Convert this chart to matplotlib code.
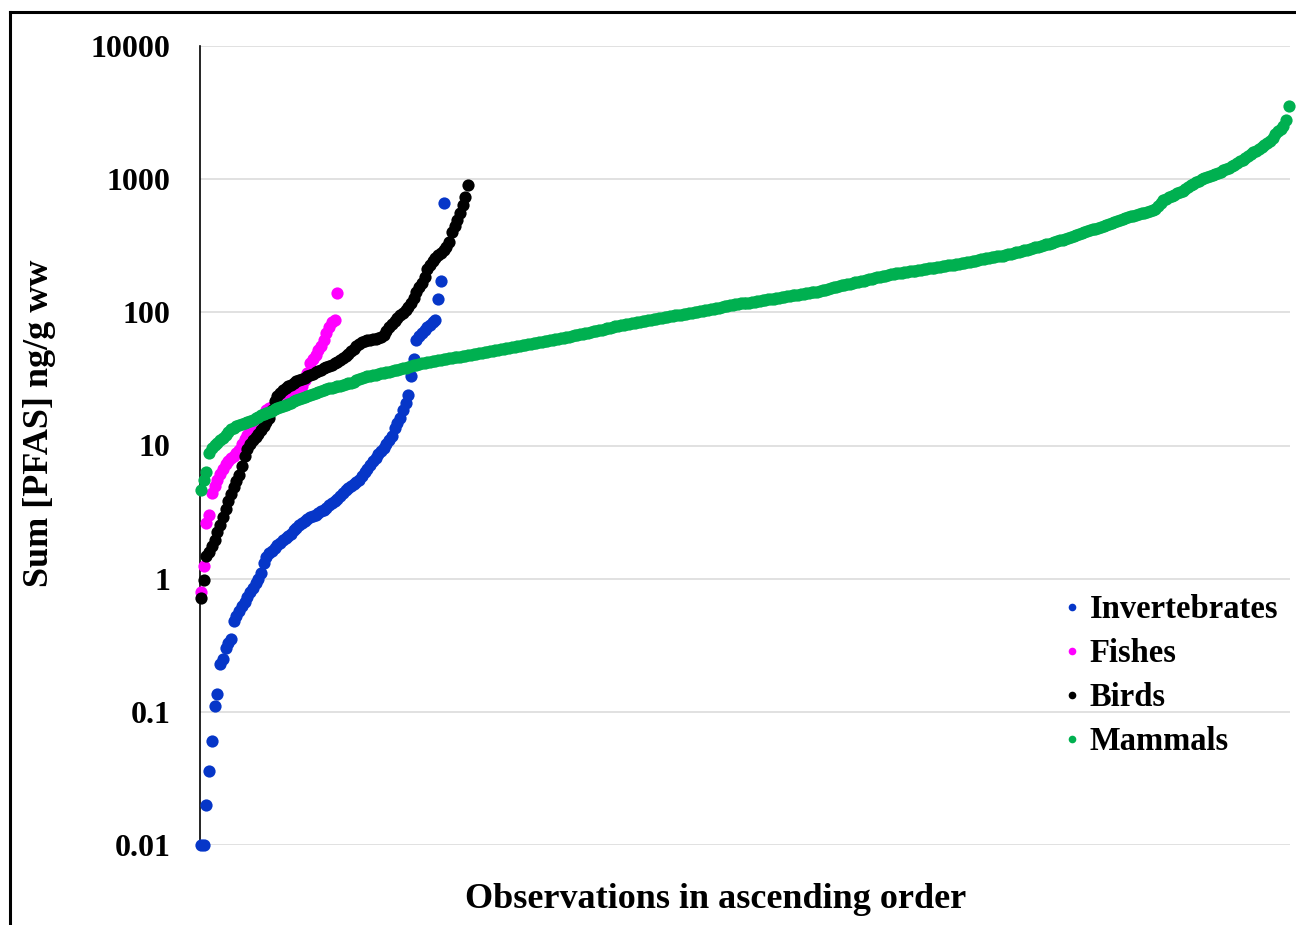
import matplotlib
matplotlib.use("Agg")
import matplotlib.pyplot as plt
from matplotlib.lines import Line2D
from matplotlib.ticker import FixedLocator, FixedFormatter, NullLocator

plt.rcParams['font.family'] = ['Liberation Serif', 'DejaVu Serif']
plt.rcParams['font.weight'] = 'bold'

series_names = ["Invertebrates", "Fishes", "Birds", "Mammals"]
series_colors = ["#0636C8", "#FF00FF", "#000000", "#00B050"]

invertebrates = [
    0.01, 0.01, 0.02, 0.036, 0.06, 0.11, 0.135, 0.23, 0.25, 0.30,
    0.33, 0.35, 0.48, 0.52, 0.57, 0.62, 0.67, 0.73, 0.79, 0.85,
    0.92, 1.0, 1.1, 1.3, 1.45, 1.55, 1.62, 1.70, 1.78, 1.86,
    1.95, 2.03, 2.10, 2.18, 2.30, 2.42, 2.52, 2.62, 2.72, 2.80,
    2.88, 2.95, 3.02, 3.10, 3.20, 3.30, 3.42, 3.55, 3.68, 3.80,
    3.95, 4.15, 4.40, 4.60, 4.80, 5.00, 5.15, 5.35, 5.55, 5.9,
    6.3, 6.7, 7.1, 7.6, 8.1, 8.6, 9.1, 9.5, 10.2, 11.0,
    11.7, 13.5, 14.8, 16.0, 18.5, 21, 24, 33, 45, 62,
    66, 70, 74, 77, 80, 84, 88, 127, 171, 668,
]

fishes = [
    0.8, 1.25, 2.6, 3.0, 4.4, 5.0, 5.5, 6.1, 6.7, 7.2,
    7.7, 8.0, 8.4, 8.8, 9.2, 10.2, 11.2, 12.0, 12.9, 13.7,
    14.6, 15.5, 16.3, 17.3, 18.4, 19.0, 19.6, 20.2, 20.8, 21.4,
    22.0, 22.5, 23.0, 23.6, 24.2, 25.6, 27.0, 28.2, 31, 35,
    42, 45, 48, 52, 56, 62, 70, 78, 84, 88,
    139,
]

birds = [
    0.72, 0.98, 1.47, 1.58, 1.75, 1.95, 2.25, 2.55, 2.9, 3.35,
    3.85, 4.3, 4.9, 5.4, 6.0, 7.0, 8.4, 9.4, 10.2, 11.0,
    11.6, 12.3, 13.1, 14.0, 15.0, 16.2, 18.5, 21.5, 23.5, 24.8,
    26.0, 26.8, 27.8, 28.7, 29.5, 30.3, 31.0, 31.7, 32.4, 33.0,
    33.8, 34.6, 35.4, 36.2, 37.2, 38.0, 38.8, 39.6, 40.4, 41.3,
    42.2, 43.8, 45.5, 47.2, 49, 51, 53.5, 56, 58, 59.5,
    60.5, 61.5, 62.0, 62.8, 63.6, 64.5, 65.5, 67, 72, 77,
    82, 86, 90, 95, 99, 104, 110, 117, 128, 142,
    155, 165, 185, 212, 228, 243, 255, 268, 280, 293,
    310, 340, 400, 445, 490, 560, 640, 740, 900,
]

mammals = [
    4.6, 5.5, 6.3, 8.8, 9.6, 10.1, 10.5, 11.0, 11.4, 11.9,
    12.6, 13.2, 13.6, 13.9, 14.2, 14.5, 14.8, 15.0, 15.2, 15.6,
    16.0, 16.4, 16.8, 17.2, 17.6, 18.0, 18.3, 18.7, 19.1, 19.5,
    19.9, 20.2, 20.6, 21.0, 21.5, 22.0, 22.4, 22.8, 23.2, 23.6,
    24.0, 24.4, 24.9, 25.3, 25.8, 26.2, 26.6, 26.9, 27.2, 27.5,
    27.8, 28.2, 28.6, 29.0, 29.3, 29.7, 30.2, 30.8, 31.4, 32.0,
    32.5, 33.0, 33.4, 33.8, 34.1, 34.5, 34.8, 35.1, 35.5, 35.9,
    36.3, 36.7, 37.2, 37.6, 38.1, 38.5, 39.0, 39.4, 39.9, 40.4,
    40.9, 41.4, 41.8, 42.3, 42.7, 43.0, 43.3, 43.6, 43.9, 44.3,
    44.7, 45.1, 45.5, 45.8, 46.1, 46.5, 46.9, 47.3, 47.7, 48.1,
    48.5, 48.9, 49.3, 49.8, 50.3, 50.8, 51.2, 51.6, 52.0, 52.4,
    52.8, 53.2, 53.6, 54.0, 54.5, 55.0, 55.5, 56.0, 56.5, 57.0,
    57.4, 57.9, 58.4, 58.9, 59.4, 59.9, 60.4, 61.0, 61.6, 62.2,
    62.8, 63.4, 64.0, 64.6, 65.2, 65.8, 66.4, 67.0, 67.6, 68.2,
    68.9, 69.6, 70.3, 71.0, 71.8, 72.6, 73.4, 74.2, 75.0, 75.8,
    76.7, 77.6, 78.3, 79.0, 79.8, 80.6, 81.3, 82.0, 82.8, 83.6,
    84.4, 85.2, 86.0, 86.7, 87.5, 88.3, 89.0, 89.8, 90.5, 91.2,
    91.9, 92.6, 93.3, 94.0, 94.7, 95.4, 96.1, 96.9, 97.7, 98.6,
    99.5, 100.4, 101.3, 102.2, 103.0, 103.8, 104.5, 105.3, 106.2, 107.3,
    108.5, 109.7, 110.9, 112, 113, 114, 115, 116, 117, 117.5,
    118, 118.5, 119, 120, 121, 122, 123, 124, 125, 126,
    127, 128, 129, 130, 131, 132, 133, 134, 135, 136,
    137, 138, 139, 140, 141, 142, 143, 144, 146, 148,
    150, 152, 154, 156, 158, 160, 161, 162, 164, 166,
    168, 170, 171, 173, 175, 177, 179, 181, 183, 185,
    187, 189, 191, 193, 194, 196, 197, 199, 200, 202,
    203, 205, 206, 208, 209, 211, 212, 214, 215, 217,
    218, 220, 221, 223, 225, 227, 228, 230, 232, 234,
    236, 238, 240, 242, 245, 247, 250, 252, 255, 257,
    259, 261, 263, 265, 267, 270, 273, 276, 279, 282,
    285, 289, 292, 296, 300, 304, 308, 312, 316, 320,
    324, 328, 332, 337, 342, 347, 352, 357, 362, 368,
    374, 380, 386, 392, 398, 405, 412, 419, 426, 433,
    440, 448, 456, 464, 472, 480, 488, 496, 503, 510,
    518, 526, 533, 540, 547, 553, 560, 566, 572, 585,
    600, 630, 665, 700, 715, 730, 745, 765, 785, 805,
    820, 840, 870, 900, 925, 950, 975, 995, 1015, 1035,
    1055, 1075, 1095, 1115, 1140, 1165, 1190, 1215, 1245, 1280,
    1320, 1360, 1400, 1440, 1490, 1540, 1590, 1640, 1690, 1740,
    1800, 1870, 1950, 2050, 2200, 2300, 2400, 2500, 2800, 3550,
]

y_ticks = [0.01, 0.1, 1, 10, 100, 1000, 10000]
y_tick_labels = ["0.01", "0.1", "1", "10", "100", "1000", "10000"]

W, H = 1296, 925
fig = plt.figure(figsize=(W / 100, H / 100), dpi=100)
ax = fig.add_axes([200 / W, 1 - 845 / H, 1090 / W, 799 / H])

all_series = [invertebrates, fishes, birds, mammals]
for k, (vals, color, name) in enumerate(zip(all_series, series_colors, series_names)):
    ax.plot(range(len(vals)), vals, 'o', ls='none', ms=8.8, mfc=color, mec='none',
            clip_on=False, zorder=3 + k, label=name)

ax.set_yscale('log')
ax.set_ylim(0.01, 10000)
ax.set_xlim(-0.37, 399.4)
ax.yaxis.set_major_locator(FixedLocator(y_ticks))
ax.yaxis.set_major_formatter(FixedFormatter(y_tick_labels))
ax.yaxis.set_minor_locator(NullLocator())
ax.set_xticks([])
ax.tick_params(axis='y', length=0, pad=21, labelsize=23)
for lab in ax.get_yticklabels():
    lab.set_fontweight('bold')
ax.grid(axis='y', color='#D9D9D9', lw=1.1, zorder=0)
ax.set_axisbelow(True)
for s in ['top', 'right', 'bottom']:
    ax.spines[s].set_visible(False)
ax.spines['left'].set_color('black')
ax.spines['left'].set_linewidth(1.2)

fig.text(40 / W, 1 - 423 / H, "Sum [PFAS] ng/g ww", rotation=90, ha='center', va='center',
         fontsize=26, fontweight='bold')
fig.text(716 / W, 1 - 899 / H, "Observations in ascending order", ha='center', va='center',
         fontsize=26, fontweight='bold')

handles = [Line2D([], [], marker='o', ls='none', ms=5.5, mfc=c, mec='none') for c in series_colors]
leg = fig.legend(handles, series_names, loc='upper left', bbox_to_anchor=(1064 / W, 1 - 594 / H),
                 frameon=False, prop={'size': 23.5, 'weight': 'bold'}, handlelength=0.5,
                 handletextpad=0.28, labelspacing=0.4, borderpad=0, borderaxespad=0)

# outer frame of the figure (top and left edges visible)
fig.add_artist(Line2D([10 / W, 1.0], [1 - 12 / H, 1 - 12 / H], transform=fig.transFigure,
                      color='black', lw=2.2))
fig.add_artist(Line2D([10 / W, 10 / W], [1 - 12 / H, 0.0], transform=fig.transFigure,
                      color='black', lw=2.2))

fig.savefig("out.png", dpi=100)
